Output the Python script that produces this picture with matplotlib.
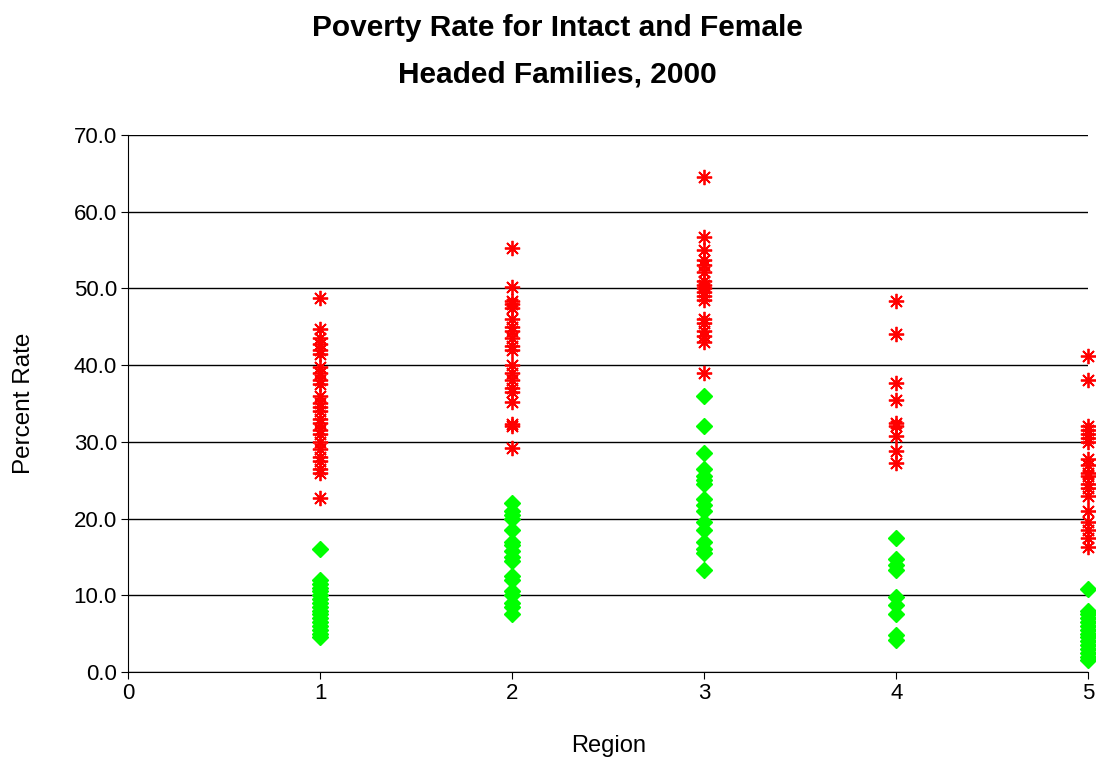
import matplotlib.pyplot as plt
import numpy as np

plt.rcParams['font.family'] = ['Liberation Sans', 'DejaVu Sans']

# percent rate by region
female_r1 = [48.8, 44.7, 43.5, 42.8, 42.0, 41.5, 39.8, 39.0, 38.0, 37.5, 36.0, 35.0, 34.5,
             34.0, 33.0, 32.5, 31.5, 31.0, 30.0, 29.0, 28.0, 27.5, 26.5, 26.0, 22.7]
female_r2 = [55.3, 50.2, 48.3, 48.0, 47.5, 46.0, 45.0, 44.5, 43.5, 42.5, 42.0, 40.0, 39.0,
             38.0, 37.0, 36.5, 35.2, 32.3, 32.0, 29.2]
female_r3 = [64.5, 56.7, 55.0, 53.7, 53.0, 52.2, 51.0, 50.5, 50.0, 49.5, 49.0, 48.5, 46.0,
             45.5, 44.5, 43.8, 43.0, 39.0]
female_r4 = [48.3, 44.1, 37.7, 35.5, 32.5, 32.0, 30.8, 28.8, 27.2]
female_r5 = [41.2, 38.1, 32.0, 31.5, 31.0, 30.5, 30.0, 27.8, 27.0, 26.0, 25.5, 24.5, 24.0,
             23.0, 21.0, 19.5, 18.5, 17.5, 16.3]

intact_r1 = [16.0, 12.0, 11.5, 11.0, 10.5, 10.0, 9.5, 9.0, 8.5, 8.0, 7.5, 7.0, 6.5, 6.0,
             5.5, 5.0, 4.5]
intact_r2 = [22.0, 21.0, 20.5, 20.0, 18.5, 17.0, 16.5, 15.8, 15.0, 14.5, 12.5, 12.0, 10.5,
             10.0, 9.0, 8.5, 7.5]
intact_r3 = [36.0, 32.0, 28.5, 26.5, 25.5, 25.0, 24.5, 22.5, 21.8, 21.0, 19.5, 18.5, 17.0,
             16.0, 15.5, 13.3]
intact_r4 = [17.5, 14.7, 14.0, 13.3, 9.8, 8.7, 7.5, 4.8, 4.2]
intact_r5 = [10.8, 8.0, 7.5, 7.0, 6.5, 6.0, 5.5, 5.0, 4.5, 4.0, 3.5, 3.0, 2.5, 2.0, 1.5]

female = [female_r1, female_r2, female_r3, female_r4, female_r5]
intact = [intact_r1, intact_r2, intact_r3, intact_r4, intact_r5]
regions = [1, 2, 3, 4, 5]

fig = plt.figure(figsize=(10.96, 7.65), dpi=100)
ax = fig.add_axes([0.117, 0.1216, 0.876, 0.702])

for reg, f, g in zip(regions, female, intact):
    ax.plot([reg] * len(g), g, linestyle='none', marker='D', markersize=8,
            color='#00ff00', clip_on=False, zorder=3)
    ax.plot([reg] * len(f), f, linestyle='none', marker=(8, 2, 0), markersize=11,
            markeredgewidth=1.3, color='#ff0000', clip_on=False, zorder=3)

ax.set_xlim(0, 5)
ax.set_ylim(0, 70)
ax.set_xticks(range(6))
ax.set_yticks(np.arange(0, 71, 10))
ax.set_yticklabels(['%.1f' % v for v in np.arange(0, 71, 10)])
ax.yaxis.grid(True, color='black', linewidth=1)
ax.set_axisbelow(True)
ax.spines['top'].set_visible(False)
ax.spines['right'].set_visible(False)
ax.tick_params(labelsize=16, length=5, direction='out', pad=3)

ax.set_xlabel('Region', fontsize=17, labelpad=22)
ax.set_ylabel('Percent Rate', fontsize=17.5, labelpad=28)
fig.text(0.509, 0.963, 'Poverty Rate for Intact and Female', fontsize=21.5,
         fontweight='bold', ha='center', va='center')
fig.text(0.509, 0.903, 'Headed Families, 2000', fontsize=21.5,
         fontweight='bold', ha='center', va='center')

fig.savefig('out.png', dpi=100)
